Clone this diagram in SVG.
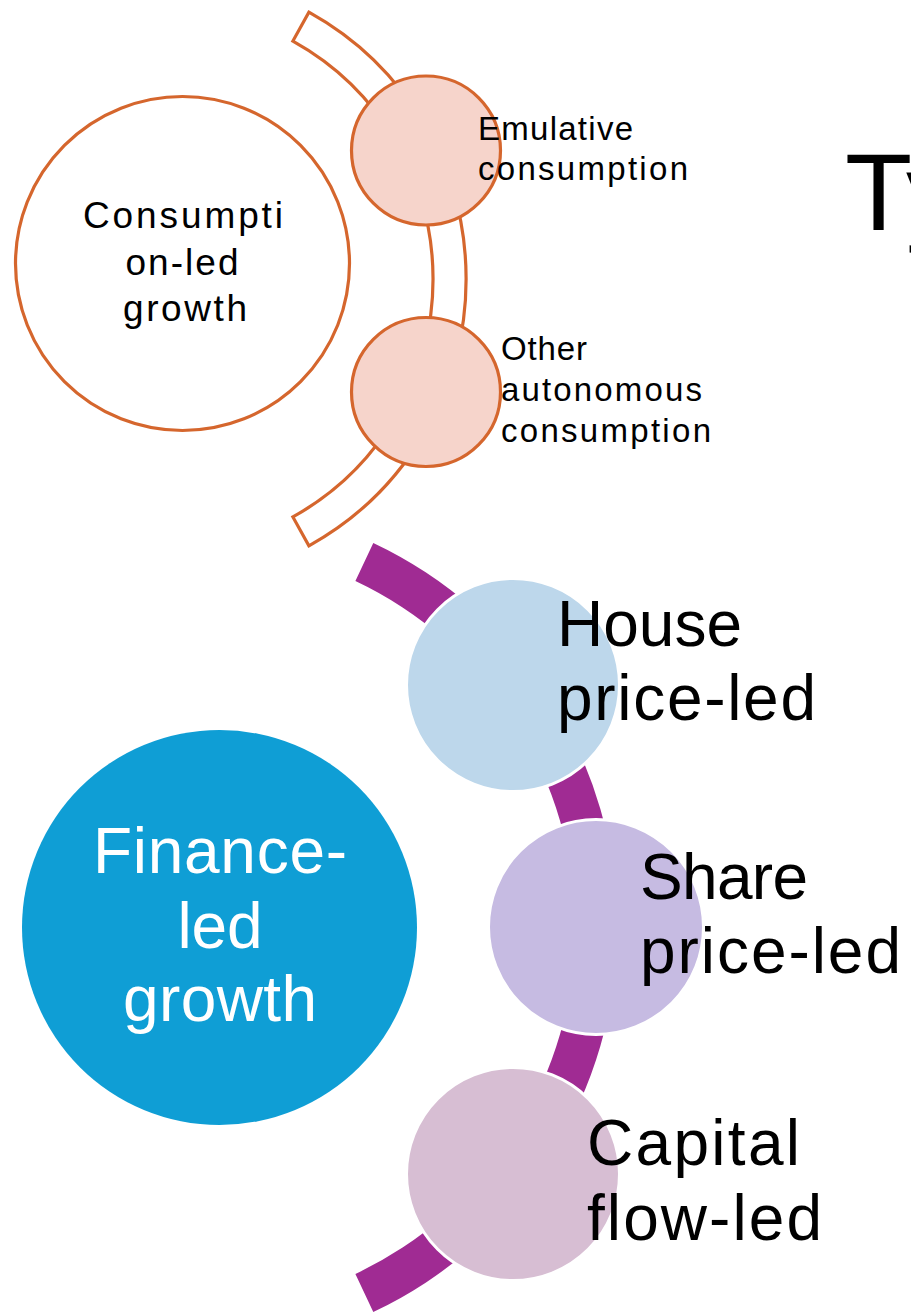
<svg xmlns="http://www.w3.org/2000/svg" width="911" height="1313" viewBox="0 0 911 1313">
  <style>
    text { font-family: "Liberation Sans", Arial, sans-serif; fill: #000; }
    .sm { font-size: 33px; }
    .md { font-size: 37px; }
    .lg { font-size: 64px; }
    .inv { fill: #fff; }
    .c { text-anchor: middle; }
    .orange { stroke: #D5662D; stroke-width: 3.2; }
    .pink { fill: #F6D4CB; }
    .ring { stroke: #fff; stroke-width: 3; }
  </style>
  <rect width="911" height="1313" fill="#fff"/>

  <!-- curved bands behind the circle lists -->
  <g id="connectors">
    <path class="orange" fill="#fff" d="M 308.9 12.2 A 305 305 0 0 1 308.9 545.8 L 292.9 516.9 A 272 272 0 0 0 292.9 41.1 Z"/>
    <path fill="#A02B93" d="M 373.3 543 A 425 425 0 0 1 373.3 1312 L 355.4 1274 A 383 383 0 0 0 355.4 581 Z"/>
  </g>

  <text x="845" y="230" style="font-size:110px">Ty</text>

  <g id="consumption-led">
    <circle class="orange" cx="182.5" cy="263.5" r="167" fill="#fff"/>
    <text class="md c" x="183" y="228" textLength="200" lengthAdjust="spacing">Consumpti</text>
    <text class="md c" x="182" y="275" textLength="113" lengthAdjust="spacing">on-led</text>
    <text class="md c" x="185" y="321" textLength="124" lengthAdjust="spacing">growth</text>
  </g>

  <g id="emulative">
    <circle class="orange pink" cx="426" cy="150.5" r="74.5"/>
    <text class="sm" x="478" y="140" textLength="155" lengthAdjust="spacing">Emulative</text>
    <text class="sm" x="478" y="180" textLength="210" lengthAdjust="spacing">consumption</text>
  </g>

  <g id="other-autonomous">
    <circle class="orange pink" cx="426" cy="392" r="74.5"/>
    <text class="sm" x="501" y="360" textLength="86" lengthAdjust="spacing">Other</text>
    <text class="sm" x="501" y="401" textLength="201" lengthAdjust="spacing">autonomous</text>
    <text class="sm" x="501" y="442" textLength="210" lengthAdjust="spacing">consumption</text>
  </g>

  <g id="finance-led">
    <circle cx="219.5" cy="927.5" r="197.5" fill="#0F9ED5"/>
    <text class="lg c inv" x="220" y="873" textLength="254" lengthAdjust="spacing">Finance-</text>
    <text class="lg c inv" x="220" y="948" textLength="85" lengthAdjust="spacing">led</text>
    <text class="lg c inv" x="220" y="1021" textLength="194" lengthAdjust="spacing">growth</text>
  </g>

  <g id="house-price-led">
    <circle class="ring" cx="513" cy="685" r="106.5" fill="#BDD7EB"/>
    <text class="lg" x="557" y="646" textLength="185" lengthAdjust="spacing">House</text>
    <text class="lg" x="557" y="720" textLength="259" lengthAdjust="spacing">price-led</text>
  </g>

  <g id="share-price-led">
    <circle class="ring" cx="596" cy="927" r="107.5" fill="#C6BBE2"/>
    <text class="lg" x="640" y="899" textLength="168" lengthAdjust="spacing">Share</text>
    <text class="lg" x="640" y="973" textLength="261" lengthAdjust="spacing">price-led</text>
  </g>

  <g id="capital-flow-led">
    <circle class="ring" cx="513" cy="1174" r="106.5" fill="#D7BED3"/>
    <text class="lg" x="587" y="1165" textLength="213" lengthAdjust="spacing">Capital</text>
    <text class="lg" x="587" y="1240" textLength="235" lengthAdjust="spacing">flow-led</text>
  </g>
</svg>
